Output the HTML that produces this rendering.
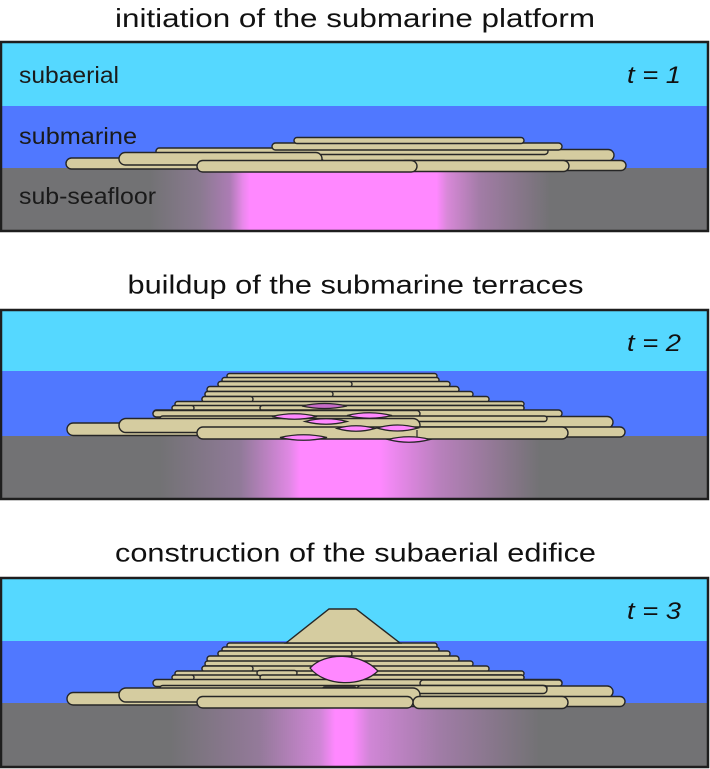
<!DOCTYPE html>
<html><head><meta charset="utf-8"><style>
html,body{margin:0;padding:0;background:#fff;}
svg{display:block;}
.b{fill:#d5cca0;stroke:#262626;stroke-width:1.4;}
.f{fill:#d5cca0;stroke:none;}
.l{fill:#ff88ff;stroke:#262626;stroke-width:1.3;}
.t{font-family:"Liberation Sans",sans-serif;font-size:26px;fill:#111;}
.lab{font-family:"Liberation Sans",sans-serif;font-size:23px;fill:#1a1a1a;}
.tl{font-family:"Liberation Sans",sans-serif;font-size:24px;font-style:italic;fill:#111;}
</style></head><body>
<svg width="710" height="769" viewBox="0 0 710 769" xmlns="http://www.w3.org/2000/svg">
<defs>
<linearGradient id="g1" gradientUnits="userSpaceOnUse" x1="0" y1="0" x2="710" y2="0">
<stop offset="0" stop-color="#727274"/><stop offset="0.211" stop-color="#727274"/>
<stop offset="0.282" stop-color="#8a7a90"/><stop offset="0.324" stop-color="#ac7cb4"/>
<stop offset="0.342" stop-color="#e888ea"/><stop offset="0.352" stop-color="#ff88ff"/>
<stop offset="0.615" stop-color="#ff88ff"/><stop offset="0.630" stop-color="#d888d8"/>
<stop offset="0.676" stop-color="#a27ca6"/><stop offset="0.775" stop-color="#727274"/>
<stop offset="1" stop-color="#727274"/></linearGradient>
<linearGradient id="g2" gradientUnits="userSpaceOnUse" x1="0" y1="0" x2="710" y2="0">
<stop offset="0" stop-color="#727274"/><stop offset="0.225" stop-color="#727274"/>
<stop offset="0.338" stop-color="#907a98"/><stop offset="0.408" stop-color="#e088e4"/>
<stop offset="0.423" stop-color="#ff88ff"/><stop offset="0.535" stop-color="#ff88ff"/>
<stop offset="0.550" stop-color="#f088f2"/><stop offset="0.620" stop-color="#b880bc"/>
<stop offset="0.760" stop-color="#727274"/><stop offset="1" stop-color="#727274"/></linearGradient>
<linearGradient id="g3" gradientUnits="userSpaceOnUse" x1="0" y1="0" x2="710" y2="0">
<stop offset="0" stop-color="#727274"/><stop offset="0.240" stop-color="#727274"/>
<stop offset="0.366" stop-color="#947a9a"/><stop offset="0.451" stop-color="#d086d6"/>
<stop offset="0.472" stop-color="#ff88ff"/><stop offset="0.496" stop-color="#ff88ff"/>
<stop offset="0.521" stop-color="#d086d6"/><stop offset="0.620" stop-color="#a07ca6"/>
<stop offset="0.760" stop-color="#727274"/><stop offset="1" stop-color="#727274"/></linearGradient>
</defs>
<rect width="710" height="769" fill="#fff"/>

<!-- Titles -->
<text class="t" x="115" y="27" textLength="480" lengthAdjust="spacingAndGlyphs">initiation of the submarine platform</text>
<text class="t" x="127.5" y="293.5" textLength="456" lengthAdjust="spacingAndGlyphs">buildup of the submarine terraces</text>
<text class="t" x="115" y="561.5" textLength="481" lengthAdjust="spacingAndGlyphs">construction of the subaerial edifice</text>

<!-- Panel 1 -->
<rect x="1" y="42" width="707" height="64" fill="#55d8ff"/>
<rect x="1" y="106" width="707" height="62" fill="#5078ff"/>
<rect x="1" y="168" width="707" height="63" fill="url(#g1)"/>
<rect class="b" x="320" y="149.5" width="294" height="11.5" rx="5.75"/>
<rect class="b" x="156" y="148" width="392" height="6.5" rx="3.25"/>
<rect class="b" x="272" y="143" width="290" height="7" rx="3.5"/>
<rect class="b" x="294" y="137.5" width="230" height="6" rx="3"/>
<rect class="b" x="400" y="160.5" width="226" height="10" rx="5"/>
<rect class="b" x="355" y="160.5" width="214" height="11" rx="5.5"/>
<rect class="b" x="66" y="158" width="200" height="11" rx="5.5"/>
<rect class="b" x="119" y="152.5" width="203" height="12.5" rx="6.25"/>
<rect class="b" x="197" y="160.5" width="220" height="11.5" rx="5.75"/>
<text class="lab" x="19" y="83" textLength="100" lengthAdjust="spacingAndGlyphs">subaerial</text>
<text class="lab" x="19" y="144" textLength="118" lengthAdjust="spacingAndGlyphs">submarine</text>
<text class="lab" x="19" y="204" textLength="137" lengthAdjust="spacingAndGlyphs">sub-seafloor</text>
<text class="tl" x="627" y="83" textLength="54" lengthAdjust="spacingAndGlyphs">t = 1</text>
<rect x="1" y="42" width="707" height="189" fill="none" stroke="#1e1e1e" stroke-width="2.5"/>

<!-- Panel 2 -->
<rect x="1" y="310" width="707" height="61" fill="#55d8ff"/>
<rect x="1" y="371" width="707" height="65" fill="#5078ff"/>
<rect x="1" y="436" width="707" height="63" fill="url(#g2)"/>
<g>
<rect class="f" x="228" y="376" width="205" height="20"/>
<rect class="f" x="206" y="396" width="280" height="6"/>
<rect class="f" x="180" y="402" width="340" height="14"/>
<rect class="f" x="165" y="414" width="375" height="20"/>
<rect class="b" x="227" y="373.5" width="210" height="5" rx="2.5"/>
<rect class="b" x="222" y="377.5" width="217" height="5" rx="2.5"/>
<rect class="b" x="218" y="381.5" width="232" height="5.5" rx="2.75"/>
<rect class="b" x="218" y="381.5" width="134" height="5.5" rx="2.75"/>
<rect class="b" x="207" y="386.5" width="252" height="6" rx="3"/>
<rect class="b" x="205" y="391.5" width="268" height="5.5" rx="2.75"/>
<rect class="b" x="205" y="391.5" width="128" height="5.5" rx="2.75"/>
<rect class="b" x="202" y="396.5" width="287" height="5.5" rx="2.75"/>
<rect class="b" x="202" y="396.5" width="51" height="5.5" rx="2.75"/>
<rect class="b" x="175" y="401.5" width="349" height="5" rx="2.5"/>
<rect class="b" x="190" y="405.5" width="334" height="5" rx="2.5"/>
<rect class="b" x="260" y="405.5" width="264" height="5" rx="2.5"/>
<rect class="b" x="172" y="405.5" width="22" height="5" rx="2.5"/>
<rect class="b" x="153" y="410" width="409" height="7" rx="3.5"/>
<rect class="b" x="153" y="410.5" width="267" height="6.5" rx="3.25"/>
<rect class="b" x="300" y="416.5" width="313" height="11.5" rx="5.75"/>
<rect class="b" x="160" y="416" width="387" height="5.5" rx="2.75"/>
<rect class="b" x="400" y="427" width="225" height="10" rx="5"/>
<rect class="b" x="67" y="423" width="263" height="12.5" rx="6.25"/>
<rect class="b" x="119" y="418.5" width="301" height="14" rx="7"/>
<rect class="b" x="197" y="427" width="371" height="12" rx="6"/>
</g>
<path d="M302,406 Q324.5,401 347,406 Q324.5,411 302,406Z" fill="#c86cc8" stroke="#262626" stroke-width="1.2"/>
<path class="l" d="M272,416.5 Q294.5,411 317,416.5 Q294.5,422 272,416.5Z"/>
<path class="l" d="M347,415.5 Q369.5,410 392,415.5 Q369.5,421 347,415.5Z"/>
<path class="l" d="M305,421.5 Q326,416 347,421.5 Q326,427 305,421.5Z"/>
<path class="l" d="M337,428.5 Q356,423 375,428.5 Q356,434 337,428.5Z"/>
<path class="l" d="M377,428 Q397.5,422 418,428 Q397.5,434 377,428Z"/>
<line x1="417" y1="430" x2="417" y2="437" stroke="#262626" stroke-width="1.2"/>
<path class="l" d="M280,437.5 Q303.5,432 327,437.5 Q303.5,443 280,437.5Z"/>
<path class="l" d="M388,439.5 Q409,434 430,439.5 Q409,445 388,439.5Z"/>
<text class="tl" x="627" y="351" textLength="54" lengthAdjust="spacingAndGlyphs">t = 2</text>
<rect x="1" y="310" width="707" height="189" fill="none" stroke="#1e1e1e" stroke-width="2.5"/>

<!-- Panel 3 -->
<rect x="1" y="578" width="707" height="63" fill="#55d8ff"/>
<rect x="1" y="641" width="707" height="62" fill="#5078ff"/>
<rect x="1" y="703" width="707" height="64" fill="url(#g3)"/>
<g transform="translate(0,269.5)">
<rect class="f" x="228" y="376" width="205" height="20"/>
<rect class="f" x="206" y="396" width="280" height="6"/>
<rect class="f" x="180" y="402" width="340" height="14"/>
<rect class="f" x="165" y="414" width="375" height="20"/>
<rect class="b" x="227" y="373.5" width="210" height="5" rx="2.5"/>
<rect class="b" x="222" y="377.5" width="217" height="5" rx="2.5"/>
<rect class="b" x="218" y="381.5" width="232" height="5.5" rx="2.75"/>
<rect class="b" x="218" y="381.5" width="134" height="5.5" rx="2.75"/>
<rect class="b" x="207" y="386.5" width="252" height="6" rx="3"/>
<rect class="b" x="205" y="391.5" width="268" height="5.5" rx="2.75"/>
<rect class="b" x="202" y="396.5" width="287" height="5.5" rx="2.75"/>
<rect class="b" x="202" y="396.5" width="51" height="5.5" rx="2.75"/>
<rect class="b" x="175" y="401.5" width="349" height="5" rx="2.5"/>
<rect class="b" x="190" y="405.5" width="334" height="5" rx="2.5"/>
<rect class="b" x="257" y="401" width="40" height="5" rx="2.5"/>
<rect class="b" x="260" y="405.5" width="264" height="5" rx="2.5"/>
<rect class="b" x="172" y="405.5" width="22" height="5" rx="2.5"/>
<rect class="b" x="153" y="410" width="409" height="7" rx="3.5"/>
<rect class="b" x="420" y="410.5" width="142" height="6.5" rx="3.25"/>
<rect class="b" x="300" y="416.5" width="313" height="11.5" rx="5.75"/>
<rect class="b" x="160" y="416" width="387" height="5.5" rx="2.75"/>
<rect class="b" x="357" y="416" width="190" height="8" rx="4"/>
<rect class="b" x="322" y="417.5" width="35" height="7" rx="3"/>
<rect class="b" x="400" y="427" width="225" height="10" rx="5"/>
<rect class="b" x="67" y="423" width="263" height="12.5" rx="6.25"/>
<rect class="b" x="119" y="418.5" width="301" height="14" rx="7"/>
<rect class="b" x="413" y="427" width="155" height="12" rx="6"/>
<rect class="b" x="197" y="427" width="216" height="11.5" rx="5.75"/>
</g>
<polygon class="b" points="286,643 329,609 356,609 400,643"/>
<path class="l" d="M310,668 C325,652 360,652 378,671 C362,687 325,687 310,668Z"/>
<text class="tl" x="627" y="619" textLength="54" lengthAdjust="spacingAndGlyphs">t = 3</text>
<rect x="1" y="578" width="707" height="189" fill="none" stroke="#1e1e1e" stroke-width="2.5"/>
</svg>
</body></html>
